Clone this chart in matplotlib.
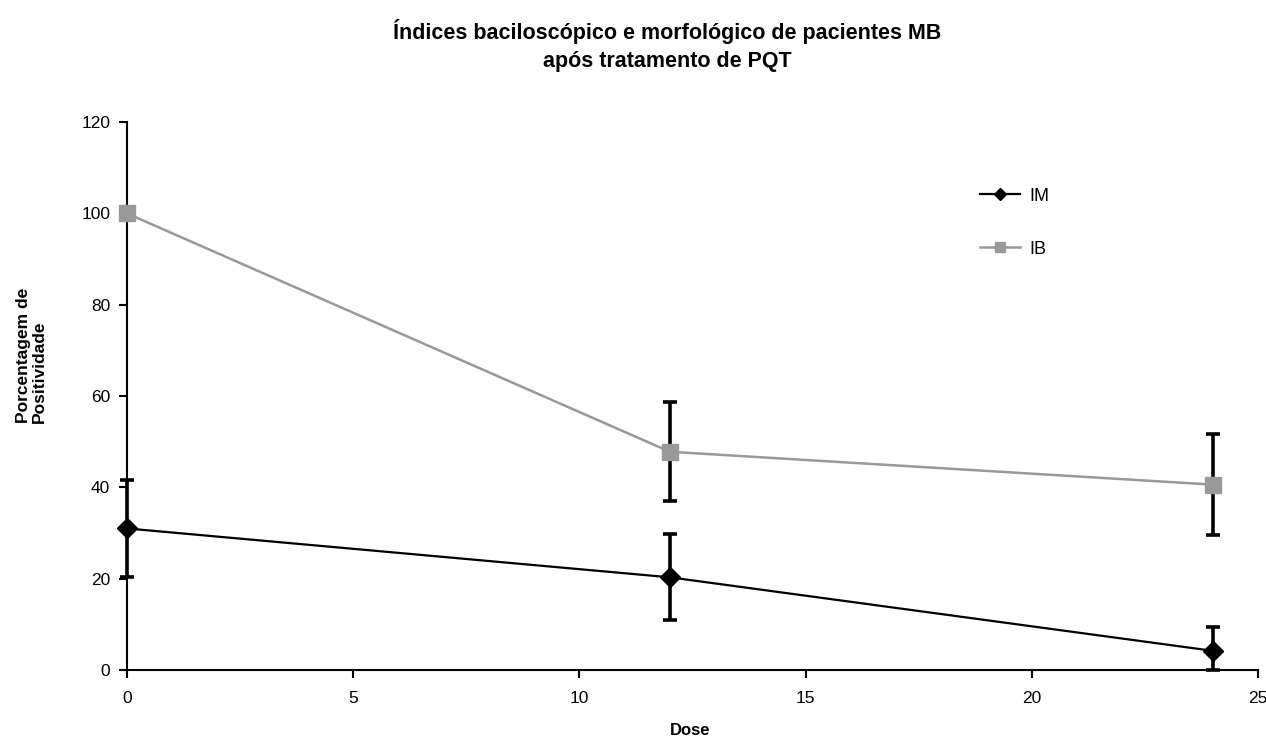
import matplotlib
matplotlib.use('Agg')
import matplotlib.pyplot as plt
import numpy as np

plt.rcParams['font.family'] = ['Liberation Sans', 'DejaVu Sans']

dose = [0, 12, 24]
im = [31.0, 20.3, 4.2]
im_err_low = [10.7, 9.4, 4.2]
im_err_high = [10.7, 9.4, 5.2]
ib = [100.0, 47.8, 40.6]
ib_err = [0, 10.8, 11.1]

fig = plt.figure(figsize=(12.66, 7.4), dpi=100)
ax = fig.add_axes([0.1003, 0.0946, 0.8934, 0.7404])

for y, err in [(ib, ib_err), (im, [im_err_low, im_err_high])]:
    eb = ax.errorbar(dose, y, yerr=err, fmt='none', ecolor='black', elinewidth=2.6,
                     capsize=5, capthick=2.6, zorder=2)
    for art in eb.get_children():
        art.set_clip_on(False)
ax.plot(dose, im, color='black', lw=1.6, marker='D', ms=10, label='IM', zorder=3,
        clip_on=False)
ax.plot(dose, ib, color='#999999', lw=1.8, marker='s', ms=12, label='IB', zorder=3,
        clip_on=False)

ax.set_xlim(0, 25)
ax.set_ylim(0, 120)
ax.set_xticks([0, 5, 10, 15, 20, 25])
ax.set_yticks([0, 20, 40, 60, 80, 100, 120])
ax.spines['top'].set_visible(False)
ax.spines['right'].set_visible(False)
ax.spines['left'].set_linewidth(1.5)
ax.spines['bottom'].set_linewidth(1.5)
ax.tick_params(axis='both', labelsize=12.5, width=1.5, length=6)
ax.tick_params(axis='x', pad=9)
ax.tick_params(axis='y', pad=6)

fig.text(0.545, 0.003, 'Dose', fontsize=12, fontweight='bold', ha='center', va='bottom')
fig.text(0.025, 0.52, 'Porcentagem de\nPositividade', rotation=90, fontsize=12.5,
         fontweight='bold', ha='center', va='center', multialignment='left',
         linespacing=1.1)

fig.suptitle('Índices baciloscópico e morfológico de pacientes MB\napós tratamento de PQT',
             x=0.527, y=0.975, fontsize=15.5, fontweight='bold', linespacing=1.45)

leg = ax.legend(loc='upper left', bbox_to_anchor=(0.74, 0.91), frameon=False,
                fontsize=13, labelspacing=2.0, handlelength=2.2, handletextpad=0.5,
                markerscale=0.6)

plt.savefig('out.png', dpi=100)
